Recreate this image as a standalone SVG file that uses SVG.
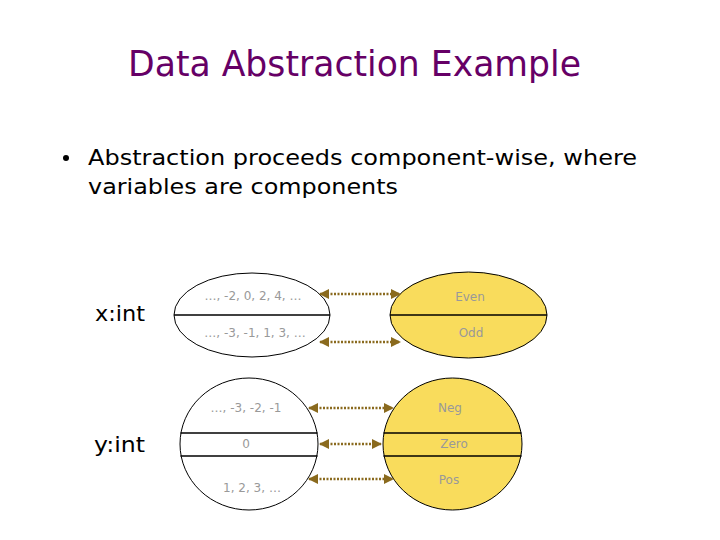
<svg xmlns="http://www.w3.org/2000/svg" width="720" height="540" viewBox="0 0 720 540">
<defs>
<style>
.t{font-family:"DejaVu Sans",Verdana,sans-serif;}
.lbl{font-family:"DejaVu Sans",Verdana,sans-serif;font-size:12px;fill:#999999;text-anchor:middle;}
.var{font-family:"DejaVu Sans",Verdana,sans-serif;font-size:21px;fill:#000;}
.sh{stroke:#000;stroke-width:1;}
.div{stroke:#000;stroke-width:1.5;}
.con{stroke:#8a6a1e;stroke-width:2.5;stroke-dasharray:2 1.5;fill:none;marker-start:url(#ah);marker-end:url(#ah);}
</style>
<marker id="ah" viewBox="0 0 10 10" refX="9" refY="5" markerWidth="4" markerHeight="4" orient="auto-start-reverse">
<path d="M0,0 L10,5 L0,10 z" fill="#8a6a1e"/>
</marker>
</defs>
<rect width="720" height="540" fill="#fff"/>
<text class="t" x="128" y="76" font-size="35" fill="#660066" textLength="453" lengthAdjust="spacingAndGlyphs">Data Abstraction Example</text>
<circle cx="66" cy="158" r="3" fill="#000"/>
<text class="t" x="88" y="165" font-size="22" fill="#000" textLength="549" lengthAdjust="spacingAndGlyphs">Abstraction proceeds component-wise, where</text>
<text class="t" x="88" y="194" font-size="22" fill="#000" textLength="310" lengthAdjust="spacingAndGlyphs">variables are components</text>

<g id="x-label"><text class="var" x="95" y="321" textLength="50" lengthAdjust="spacingAndGlyphs">x:int</text></g>
<g id="y-label"><text class="var" x="94" y="452" textLength="51" lengthAdjust="spacingAndGlyphs">y:int</text></g>

<g id="x-concrete">
<ellipse class="sh" cx="252" cy="315" rx="78" ry="42" fill="#fff"/>
<line class="div" x1="174" y1="315" x2="330" y2="315"/>
<text class="lbl" x="253" y="300">…, -2, 0, 2, 4, …</text>
<text class="lbl" x="255" y="337">…, -3, -1, 1, 3, …</text>
</g>
<g id="x-abstract">
<ellipse class="sh" cx="468.5" cy="315" rx="78.5" ry="43" fill="#f9dc5c"/>
<line class="div" x1="390" y1="315" x2="547" y2="315"/>
<text class="lbl" x="470" y="301">Even</text>
<text class="lbl" x="471" y="337">Odd</text>
</g>
<g id="y-concrete">
<ellipse class="sh" cx="249" cy="444" rx="69" ry="66" fill="#fff"/>
<line class="div" x1="180.5" y1="433" x2="317.5" y2="433"/>
<line class="div" x1="180.5" y1="456" x2="317.5" y2="456"/>
<text class="lbl" x="246" y="412">…, -3, -2, -1</text>
<text class="lbl" x="246" y="448">0</text>
<text class="lbl" x="252" y="492">1, 2, 3, …</text>
</g>
<g id="y-abstract">
<ellipse class="sh" cx="452.5" cy="444" rx="69.5" ry="66" fill="#f9dc5c"/>
<line class="div" x1="383.5" y1="433" x2="521.5" y2="433"/>
<line class="div" x1="383.5" y1="456" x2="521.5" y2="456"/>
<text class="lbl" x="450" y="412">Neg</text>
<text class="lbl" x="454" y="448">Zero</text>
<text class="lbl" x="449" y="484">Pos</text>
</g>

<g id="connectors">
<line class="con" x1="320" y1="294" x2="400" y2="294"/>
<line class="con" x1="320" y1="342" x2="400" y2="342"/>
<line class="con" x1="309" y1="408" x2="393" y2="408"/>
<line class="con" x1="320" y1="444" x2="381" y2="444"/>
<line class="con" x1="309" y1="479" x2="393" y2="479"/>
</g>
</svg>
